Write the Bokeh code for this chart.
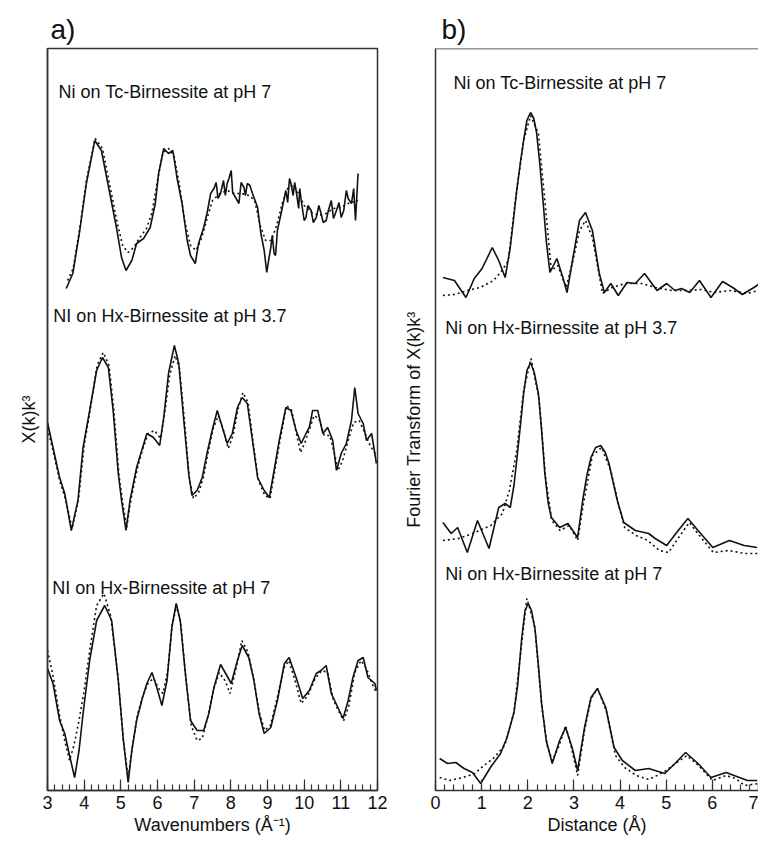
from bokeh.plotting import figure
from bokeh.layouts import row
from bokeh.models import Range1d, SingleIntervalTicker, FixedTicker, Span, Label, Title
from bokeh.embed import file_html
from bokeh.resources import INLINE

FONT = "Liberation Sans"
INK = "#111111"
FRAME = "#333333"

# ---------------- panel a: k^3-weighted EXAFS (offset, arb. units) ----------------
a_xticks = [3, 4, 5, 6, 7, 8, 9, 10, 11, 12]

# Ni on Tc-Birnessite at pH 7 (data, solid)
tc7_k = [3.51, 3.69, 3.88, 4.06, 4.29, 4.47, 4.70, 4.88, 5.02, 5.14, 5.30, 5.43, 5.62, 5.80, 5.94,
         6.03, 6.17, 6.30, 6.42, 6.53, 6.67, 6.81, 6.90, 7.03, 7.12, 7.26, 7.35, 7.45, 7.54, 7.60,
         7.65, 7.72, 7.80, 7.85, 7.90, 7.95, 8.01, 8.05, 8.13, 8.22, 8.28, 8.36, 8.40, 8.45, 8.52,
         8.59, 8.73, 8.82, 8.91, 8.98, 9.03, 9.09, 9.13, 9.18, 9.22, 9.27, 9.37, 9.50, 9.55, 9.60,
         9.64, 9.70, 9.74, 9.78, 9.85, 9.88, 9.92, 10.00, 10.05, 10.10, 10.19, 10.25, 10.33, 10.40,
         10.46, 10.52, 10.60, 10.66, 10.74, 10.80, 10.88, 10.95, 11.01, 11.08, 11.15, 11.20, 11.29,
         11.35, 11.40, 11.47]
tc7_chi = [5.02, 5.17, 5.60, 6.07, 6.50, 6.40, 5.97, 5.63, 5.33, 5.20, 5.30, 5.47, 5.52, 5.63, 5.87,
           6.17, 6.42, 6.37, 6.40, 6.13, 5.87, 5.50, 5.35, 5.27, 5.47, 5.63, 5.77, 5.97, 6.02, 6.08,
           5.92, 5.97, 6.10, 5.95, 6.07, 6.12, 6.20, 5.98, 5.93, 5.87, 6.08, 6.03, 5.95, 6.07, 6.05,
           5.97, 5.83, 5.57, 5.40, 5.18, 5.30, 5.43, 5.55, 5.37, 5.35, 5.60, 5.77, 6.00, 5.88, 6.12,
           6.07, 5.95, 6.08, 6.00, 5.82, 6.02, 5.90, 5.70, 5.73, 5.85, 5.80, 5.68, 5.73, 5.85,
           5.77, 5.68, 5.70, 5.80, 5.90, 5.72, 5.80, 5.88, 5.73, 5.80, 6.00, 5.92, 5.87,
           6.02, 5.70, 6.17]
# fit (dotted)
tc7_fit_k = [3.55, 3.70, 3.88, 4.06, 4.30, 4.50, 4.70, 4.90, 5.05, 5.20, 5.35, 5.50, 5.70, 5.85, 6.00,
             6.15, 6.30, 6.45, 6.60, 6.75, 6.90, 7.05, 7.20, 7.35, 7.50, 7.70, 7.90, 8.10, 8.30, 8.50,
             8.65, 8.80, 8.95, 9.10, 9.25, 9.40, 9.55, 9.70, 9.85, 10.00, 10.20, 10.40, 10.60, 10.80,
             11.00, 11.20, 11.47]
tc7_fit = [5.10, 5.22, 5.62, 6.10, 6.52, 6.42, 6.05, 5.68, 5.45, 5.38, 5.43, 5.52, 5.62, 5.78, 6.10,
           6.38, 6.42, 6.35, 6.05, 5.68, 5.45, 5.40, 5.52, 5.72, 5.90, 5.97, 6.00, 5.97, 5.97, 5.95,
           5.90, 5.65, 5.50, 5.50, 5.65, 5.87, 6.02, 6.05, 5.97, 5.85, 5.78, 5.75, 5.77, 5.82,
           5.83, 5.87, 5.90]

# Ni on Hx-Birnessite at pH 3.7
hx37_k = [3.00, 3.15, 3.33, 3.47, 3.65, 3.83, 3.97, 4.15, 4.34, 4.50, 4.66, 4.79, 4.93, 5.02, 5.14,
          5.25, 5.43, 5.57, 5.71, 5.89, 6.06, 6.17, 6.30, 6.46, 6.58, 6.71, 6.85, 6.94, 7.08, 7.22,
          7.35, 7.49, 7.63, 7.77, 7.90, 8.04, 8.18, 8.31, 8.45, 8.59, 8.73, 8.91, 9.05, 9.18, 9.32,
          9.50, 9.64, 9.78, 9.92, 10.05, 10.14, 10.23, 10.37, 10.51, 10.64, 10.78, 10.88, 11.01,
          11.15, 11.29, 11.38, 11.47, 11.61, 11.70, 11.84, 11.97]
hx37_chi = [3.68, 3.43, 3.13, 2.97, 2.60, 2.90, 3.43, 3.80, 4.20, 4.33, 4.23, 3.80, 3.17, 2.90, 2.60,
            2.90, 3.23, 3.40, 3.57, 3.53, 3.45, 3.73, 4.17, 4.45, 4.27, 3.73, 3.17, 2.95, 3.00, 3.13,
            3.37, 3.60, 3.80, 3.63, 3.47, 3.57, 3.83, 3.93, 3.87, 3.50, 3.13, 3.00, 2.93, 3.20, 3.50,
            3.83, 3.80, 3.60, 3.47, 3.57, 3.63, 3.80, 3.80, 3.57, 3.63, 3.50, 3.20, 3.37,
            3.47, 3.70, 4.03, 3.77, 3.67, 3.50, 3.57, 3.27]
hx37_fit_k = [3.00, 3.15, 3.33, 3.50, 3.67, 3.85, 4.00, 4.17, 4.35, 4.52, 4.68, 4.81, 4.95, 5.05, 5.16,
              5.28, 5.45, 5.60, 5.75, 5.92, 6.08, 6.20, 6.33, 6.48, 6.60, 6.73, 6.87, 6.98, 7.12, 7.25,
              7.38, 7.52, 7.66, 7.80, 7.93, 8.06, 8.20, 8.33, 8.47, 8.61, 8.75, 8.93, 9.07, 9.20, 9.34,
              9.52, 9.66, 9.80, 9.90, 10.02, 10.15, 10.27, 10.40, 10.55, 10.70, 10.84, 10.92, 11.05,
              11.20, 11.35, 11.50, 11.65, 11.80, 11.97]
hx37_fit = [3.62, 3.40, 3.10, 2.90, 2.62, 2.92, 3.45, 3.82, 4.25, 4.38, 4.25, 3.80, 3.15, 2.88, 2.63,
            2.92, 3.22, 3.42, 3.57, 3.60, 3.52, 3.78, 4.15, 4.35, 4.22, 3.72, 3.12, 2.92, 2.98, 3.13,
            3.38, 3.62, 3.75, 3.60, 3.42, 3.55, 3.82, 3.98, 3.88, 3.48, 3.10, 2.95, 2.92, 3.20, 3.50,
            3.85, 3.80, 3.55, 3.38, 3.48, 3.62, 3.75, 3.72, 3.55, 3.55, 3.35, 3.20, 3.30,
            3.50, 3.68, 3.70, 3.58, 3.45, 3.35]

# Ni on Hx-Birnessite at pH 7
hx7_k = [3.00, 3.15, 3.33, 3.47, 3.62, 3.74, 3.86, 3.97, 4.15, 4.34, 4.56, 4.75, 4.93, 5.07, 5.20,
         5.30, 5.43, 5.57, 5.71, 5.85, 5.98, 6.12, 6.26, 6.39, 6.51, 6.62, 6.76, 6.90, 7.08, 7.26,
         7.40, 7.54, 7.72, 7.86, 8.01, 8.18, 8.31, 8.49, 8.63, 8.77, 8.91, 9.09, 9.27, 9.46, 9.59,
         9.78, 9.96, 10.14, 10.33, 10.46, 10.60, 10.74, 10.92, 11.06, 11.20, 11.33, 11.47, 11.61,
         11.74, 11.93, 11.97]
hx7_chi = [1.22, 1.07, 0.70, 0.57, 0.32, 0.13, 0.40, 0.77, 1.30, 1.70, 1.85, 1.70, 1.10, 0.50, 0.08,
           0.40, 0.70, 0.90, 1.07, 1.18, 1.03, 0.85, 1.10, 1.63, 1.87, 1.70, 1.17, 0.70, 0.60, 0.60,
           0.77, 1.03, 1.26, 1.17, 1.07, 1.30, 1.45, 1.33, 1.10, 0.77, 0.57, 0.63, 0.90, 1.27, 1.33,
           1.13, 0.92, 1.00, 1.17, 1.20, 1.25, 0.97, 0.83, 0.72, 0.90, 1.13, 1.30, 1.33,
           1.13, 1.07, 1.00]
hx7_fit_k = [3.00, 3.15, 3.33, 3.47, 3.60, 3.72, 3.86, 4.00, 4.15, 4.34, 4.54, 4.72, 4.92, 5.07, 5.20,
             5.32, 5.45, 5.60, 5.75, 5.90, 6.03, 6.15, 6.28, 6.40, 6.52, 6.64, 6.78, 6.92, 7.08, 7.22,
             7.38, 7.52, 7.68, 7.84, 7.98, 8.14, 8.30, 8.47, 8.62, 8.78, 8.92, 9.08, 9.26, 9.44, 9.58,
             9.75, 9.92, 10.10, 10.30, 10.48, 10.64, 10.80, 10.96, 11.08, 11.22, 11.38, 11.55, 11.70,
             11.85, 11.97]
hx7_fit = [1.40, 1.15, 0.75, 0.50, 0.30, 0.45, 0.70, 1.00, 1.40, 1.85, 1.97, 1.75, 1.15, 0.50, 0.13,
           0.45, 0.75, 0.95, 1.08, 1.12, 1.02, 0.97, 1.20, 1.65, 1.85, 1.65, 1.10, 0.65, 0.50, 0.52,
           0.75, 1.00, 1.18, 1.10, 0.97, 1.22, 1.50, 1.38, 1.12, 0.78, 0.60, 0.65, 0.92, 1.22, 1.30,
           1.10, 0.87, 0.95, 1.12, 1.20, 1.18, 0.90, 0.78, 0.70, 0.85, 1.18, 1.30, 1.22,
           1.07, 0.98]

# ---------------- panel b: Fourier transforms (offset, arb. units) ----------------
b_xticks = [0, 1, 2, 3, 4, 5, 6, 7]

ftc7_r = [0.16, 0.41, 0.66, 0.84, 1.01, 1.23, 1.37, 1.51, 1.62, 1.70, 1.76, 1.84, 1.91, 1.98, 2.06,
          2.13, 2.19, 2.26, 2.33, 2.40, 2.48, 2.63, 2.76, 2.85, 2.98, 3.12, 3.25, 3.40, 3.55, 3.66,
          3.80, 3.96, 4.15, 4.33, 4.53, 4.80, 5.01, 5.19, 5.33, 5.51, 5.72, 5.97, 6.22, 6.44, 6.65,
          6.90, 7.00]
ftc7 = [5.13, 5.10, 4.93, 5.12, 5.22, 5.43, 5.30, 5.13, 5.43, 5.75, 6.00, 6.28, 6.50, 6.70, 6.78,
        6.72, 6.58, 6.27, 5.90, 5.50, 5.18, 5.32, 5.13, 4.98, 5.33, 5.70, 5.78, 5.60, 5.17, 4.98,
        5.07, 4.95, 5.08, 5.07, 5.17, 5.00, 5.07, 5.00, 5.02, 4.98, 5.10, 4.93, 5.09, 5.03, 4.96,
        5.03, 5.06]
ftc7_fit_r = [0.16, 0.41, 0.69, 0.97, 1.26, 1.44, 1.58, 1.73, 1.91, 2.06, 2.23, 2.37, 2.51, 2.65, 2.83,
              2.98, 3.12, 3.25, 3.40, 3.62, 3.83, 4.11, 4.47, 4.76, 5.12, 5.48, 5.76, 6.04, 6.40,
              6.76, 7.00]
ftc7_fit = [4.95, 4.96, 5.00, 5.03, 5.10, 5.20, 5.30, 5.90, 6.50, 6.75, 6.57, 5.90, 5.20, 5.25, 5.03,
            5.30, 5.60, 5.70, 5.53, 4.97, 5.03, 5.07, 5.07, 5.03, 5.00, 5.00, 5.01, 4.98, 5.00,
            4.97, 5.00]

fhx37_r = [0.16, 0.34, 0.48, 0.69, 0.91, 1.16, 1.37, 1.51, 1.62, 1.70, 1.76, 1.84, 1.91, 1.98, 2.06,
           2.14, 2.23, 2.30, 2.37, 2.44, 2.51, 2.69, 2.87, 3.08, 3.19, 3.28, 3.37, 3.47, 3.58, 3.68,
           3.76, 3.85, 3.94, 4.08, 4.33, 4.62, 4.76, 5.01, 5.26, 5.47, 5.69, 6.01, 6.37, 6.69, 6.97]
fhx37 = [2.68, 2.57, 2.63, 2.38, 2.70, 2.42, 2.83, 2.87, 2.83, 3.05, 3.30, 3.65, 3.97, 4.20, 4.28,
         4.18, 3.97, 3.60, 3.17, 2.88, 2.73, 2.63, 2.67, 2.53, 2.90, 3.15, 3.33, 3.43, 3.45, 3.38,
         3.27, 3.08, 2.90, 2.68, 2.60, 2.57, 2.52, 2.45, 2.60, 2.72, 2.60, 2.43, 2.50, 2.45, 2.43]
fhx37_fit_r = [0.16, 0.50, 0.80, 1.20, 1.45, 1.60, 1.76, 1.91, 2.07, 2.25, 2.38, 2.52, 2.70, 2.90,
               3.08, 3.20, 3.40, 3.60, 3.80, 3.97, 4.10, 4.35, 4.60, 4.85, 5.05, 5.30, 5.50, 5.72,
               6.02, 6.35, 6.70, 7.00]
fhx37_fit = [2.50, 2.52, 2.57, 2.65, 2.77, 3.00, 3.40, 4.00, 4.32, 3.90, 3.15, 2.70, 2.60, 2.65,
             2.50, 2.85, 3.35, 3.43, 3.20, 2.85, 2.63, 2.55, 2.50, 2.40, 2.38, 2.55, 2.68, 2.55,
             2.38, 2.40, 2.37, 2.37]

fhx7_r = [0.09, 0.26, 0.44, 0.62, 0.80, 0.98, 1.19, 1.41, 1.55, 1.70, 1.78, 1.87, 1.94, 2.01, 2.08,
          2.16, 2.23, 2.30, 2.40, 2.53, 2.69, 2.82, 2.96, 3.08, 3.23, 3.37, 3.51, 3.69, 3.87, 4.05,
          4.33, 4.62, 4.97, 5.19, 5.42, 5.69, 5.97, 6.30, 6.76, 6.97]
fhx7 = [0.32, 0.27, 0.28, 0.22, 0.18, 0.07, 0.23, 0.37, 0.53, 0.78, 1.05, 1.53, 1.80, 1.87, 1.80,
        1.60, 1.25, 0.87, 0.50, 0.27, 0.50, 0.63, 0.43, 0.20, 0.63, 0.93, 1.02, 0.83, 0.43, 0.30,
        0.20, 0.22, 0.17, 0.27, 0.38, 0.27, 0.13, 0.18, 0.10, 0.10]
fhx7_fit_r = [0.09, 0.30, 0.60, 0.85, 1.05, 1.25, 1.50, 1.70, 1.85, 1.98, 2.15, 2.30, 2.42, 2.53,
              2.68, 2.82, 2.96, 3.08, 3.23, 3.37, 3.51, 3.70, 3.90, 4.10, 4.35, 4.62, 4.80, 5.00,
              5.20, 5.45, 5.70, 6.00, 6.30, 6.50, 6.70, 7.00]
fhx7_fit = [0.13, 0.10, 0.13, 0.17, 0.25, 0.32, 0.45, 0.78, 1.40, 1.92, 1.65, 0.85, 0.45, 0.30,
            0.45, 0.65, 0.40, 0.15, 0.60, 0.92, 1.02, 0.80, 0.35, 0.23, 0.15, 0.11, 0.15, 0.20,
            0.27, 0.35, 0.25, 0.10, 0.15, 0.12, 0.05, 0.07]

Y_MAX = 7.42

a_labels = ["Ni on Tc-Birnessite at pH 7", "NI on Hx-Birnessite at pH 3.7", "NI on Hx-Birnessite at pH 7"]
a_label_x = [3.30, 3.16, 3.13]
a_label_y = [6.99, 4.75, 2.03]
b_labels = ["Ni on Tc-Birnessite at pH 7", "Ni on Hx-Birnessite at pH 3.7", "Ni on Hx-Birnessite at pH 7"]
b_label_x = [0.39, 0.21, 0.21]
b_label_y = [7.08, 4.63, 2.17]


def base_panel(width, x_range, xlabel, ylabel, tag, min_left, min_right, tag_offset, ylab_standoff):
    p = figure(width=width, height=841, x_range=Range1d(*x_range), y_range=Range1d(0, Y_MAX),
               output_backend="svg", toolbar_location=None,
               min_border_left=min_left, min_border_right=min_right,
               min_border_top=48, min_border_bottom=51)
    p.title = Title(text=tag, text_font=FONT, text_font_size="28px", text_font_style="normal",
                    align="left", offset=tag_offset, standoff=8, text_color=INK)
    p.xgrid.visible = False
    p.ygrid.visible = False
    p.background_fill_color = "white"
    p.border_fill_color = "white"
    p.outline_line_color = FRAME
    p.outline_line_width = 1.5

    xa = p.xaxis[0]
    xa.ticker = SingleIntervalTicker(interval=1, num_minor_ticks=5)
    xa.major_tick_in = 11
    xa.major_tick_out = 0
    xa.minor_tick_in = 6
    xa.minor_tick_out = 0
    xa.major_tick_line_color = FRAME
    xa.minor_tick_line_color = FRAME
    xa.major_tick_line_width = 1.2
    xa.minor_tick_line_width = 1.2
    xa.axis_line_color = FRAME
    xa.axis_line_width = 1.5
    xa.major_label_text_font = FONT
    xa.major_label_text_font_size = "18px"
    xa.major_label_text_color = INK
    xa.major_label_standoff = 5
    xa.axis_label = xlabel
    xa.axis_label_text_font = FONT
    xa.axis_label_text_font_size = "18px"
    xa.axis_label_text_font_style = "normal"
    xa.axis_label_text_color = INK
    xa.axis_label_standoff = 3

    ya = p.yaxis[0]
    ya.ticker = FixedTicker(ticks=[])
    ya.major_tick_line_color = None
    ya.minor_tick_line_color = None
    ya.major_label_text_font_size = "0px"
    ya.major_label_standoff = 0
    ya.axis_line_color = FRAME
    ya.axis_line_width = 1.5
    ya.axis_label = ylabel
    ya.axis_label_text_font = FONT
    ya.axis_label_text_font_size = "18px"
    ya.axis_label_text_font_style = "normal"
    ya.axis_label_text_color = INK
    ya.axis_label_standoff = ylab_standoff
    return p


def add_pair(p, x, y, fx, fy):
    p.line(fx, fy, line_color=INK, line_width=1.6, line_dash="2 3")
    p.line(x, y, line_color=INK, line_width=1.6)


pa = base_panel(400, (3, 12), "Wavenumbers (Å⁻¹)", "X(k)k³", "a)", 47, 23, 3, 9)
add_pair(pa, tc7_k, tc7_chi, tc7_fit_k, tc7_fit)
add_pair(pa, hx37_k, hx37_chi, hx37_fit_k, hx37_fit)
add_pair(pa, hx7_k, hx7_chi, hx7_fit_k, hx7_fit)
for t, x, y in zip(a_labels, a_label_x, a_label_y):
    pa.add_layout(Label(x=x, y=y, text=t, text_font=FONT, text_font_size="18px",
                        text_baseline="middle", text_align="left", text_color=INK))

pb = base_panel(358, (0, 7.0), "Distance (Å)", "Fourier Transform of X(k)k³", "b)", 31, 0, 6, 12)
pb.outline_line_color = None
pb.add_layout(Span(location=Y_MAX, dimension="width", line_color=FRAME, line_width=1.5))
add_pair(pb, ftc7_r, ftc7, ftc7_fit_r, ftc7_fit)
add_pair(pb, fhx37_r, fhx37, fhx37_fit_r, fhx37_fit)
add_pair(pb, fhx7_r, fhx7, fhx7_fit_r, fhx7_fit)
for t, x, y in zip(b_labels, b_label_x, b_label_y):
    pb.add_layout(Label(x=x, y=y, text=t, text_font=FONT, text_font_size="18px",
                        text_baseline="middle", text_align="left", text_color=INK))

layout = row(pa, pb)
open("out.html", "w").write(file_html(layout, INLINE))
